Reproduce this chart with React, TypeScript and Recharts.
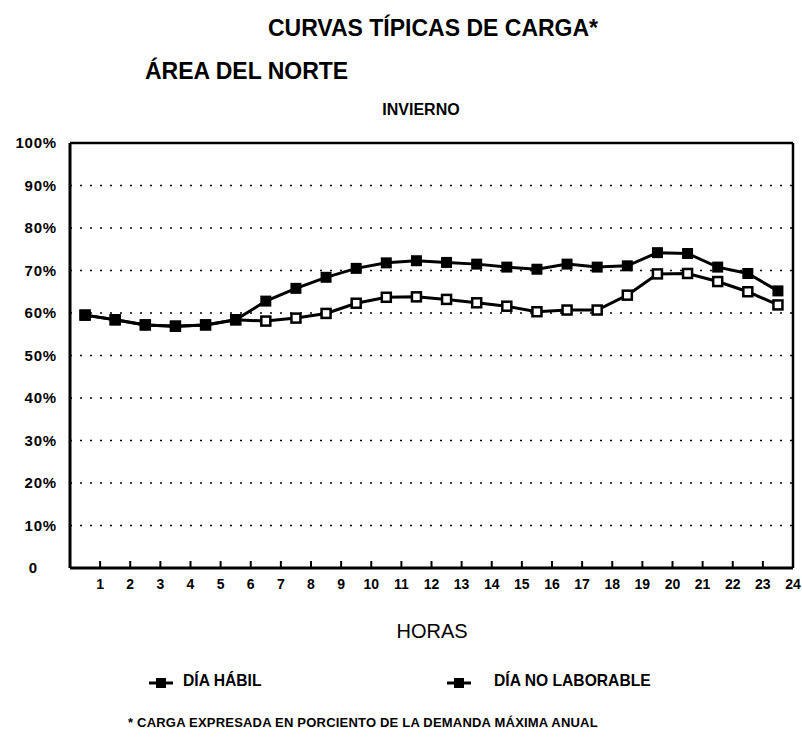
import React from 'react';
import { LineChart, Line, XAxis, YAxis, CartesianGrid, ReferenceLine } from 'recharts';

// horas del día y carga en % de la demanda máxima anual
const horas = [1, 2, 3, 4, 5, 6, 7, 8, 9, 10, 11, 12, 13, 14, 15, 16, 17, 18, 19, 20, 21, 22, 23, 24];
const diaHabil = [59.5, 58.4, 57.2, 56.9, 57.2, 58.4, 62.8, 65.8, 68.4, 70.5, 71.8, 72.3, 71.9, 71.5, 70.8, 70.3, 71.5, 70.8, 71.1, 74.2, 74.0, 70.8, 69.3, 65.2];
const diaNoLaborable = [59.5, 58.4, 57.2, 56.9, 57.2, 58.4, 58.1, 58.8, 59.9, 62.3, 63.7, 63.8, 63.2, 62.4, 61.6, 60.3, 60.7, 60.7, 64.2, 69.2, 69.3, 67.4, 65.0, 61.9];
const yTicks = [0, 10, 20, 30, 40, 50, 60, 70, 80, 90, 100];
const series = [
  { key: 'noLab', name: 'DÍA NO LABORABLE' },
  { key: 'habil', name: 'DÍA HÁBIL' },
];

// los puntos van a la mitad de cada hora
const data = horas.map((h, i) => ({ x: h - 0.5, habil: diaHabil[i], noLab: diaNoLaborable[i] }));

const FONT = '"Liberation Sans", Arial, sans-serif';

const SquareFilled = (props: any) => {
  const { cx, cy } = props;
  if (cx == null || cy == null) return null;
  return <rect x={cx - 5.5} y={cy - 5.5} width={11} height={11} fill="#000" />;
};

const SquareOpen = (props: any) => {
  const { cx, cy } = props;
  if (cx == null || cy == null) return null;
  return <rect x={cx - 4.5} y={cy - 4.5} width={9} height={9} fill="#fff" stroke="#000" strokeWidth={2.5} />;
};

const YTick = (props: any) => {
  const { x, y, payload } = props;
  const v = payload.value;
  if (v === 0) {
    return <text x={x - 24} y={y} dy="0.35em" textAnchor="middle" fontFamily={FONT} fontWeight="bold" fontSize={15} fill="#000">0</text>;
  }
  return <text x={x} y={y} dy="0.35em" textAnchor="end" fontFamily={FONT} fontWeight="bold" fontSize={15} letterSpacing={0.8} fill="#000">{v + '%'}</text>;
};

const LegendMark = ({ x }: { x: number }) => (
  <svg width={26} height={14} style={{ position: 'absolute', left: x, top: 6 }}>
    <line x1={1} y1={8} x2={25} y2={8} stroke="#000" strokeWidth={3} />
    <rect x={8} y={3} width={10} height={10} fill="#000" />
  </svg>
);

const App = () => {
  return (
    <div style={{ position: 'absolute', left: 0, top: 0, width: 802, height: 746, background: '#fff', fontFamily: FONT }}>
      <div style={{ position: 'absolute', left: 0, width: 802, top: 15, textAlign: 'center', paddingLeft: 64, boxSizing: 'border-box', fontSize: 23, fontWeight: 'bold' }}>
        CURVAS TÍPICAS DE CARGA*
      </div>
      <div style={{ position: 'absolute', left: 145, top: 58, fontSize: 23, fontWeight: 'bold' }}>ÁREA DEL NORTE</div>
      <div style={{ position: 'absolute', left: 0, width: 802, top: 101, textAlign: 'center', paddingLeft: 40, boxSizing: 'border-box', fontSize: 16, fontWeight: 'bold' }}>
        INVIERNO
      </div>

      <LineChart width={802} height={746} data={data} margin={{ top: 143, right: 9, bottom: 148, left: 10 }}>
        <CartesianGrid horizontal vertical={false} stroke="#000" strokeWidth={1.5} strokeDasharray="2 8" />
        <XAxis
          dataKey="x"
          type="number"
          domain={[0, 24]}
          ticks={horas}
          interval={0}
          height={30}
          axisLine={{ stroke: '#000', strokeWidth: 3 }}
          tickLine={{ stroke: '#000', strokeWidth: 2 }}
          tickSize={-7}
          tickMargin={18}
          tick={{ fill: '#000', fontSize: 14, fontWeight: 'bold', fontFamily: FONT }}
        />
        <YAxis
          type="number"
          domain={[0, 100]}
          ticks={yTicks}
          interval={0}
          width={60}
          axisLine={{ stroke: '#000', strokeWidth: 3 }}
          tickLine={false}
          tickSize={0}
          tickMargin={13}
          tick={<YTick />}
        />
        <ReferenceLine y={100} stroke="#000" strokeWidth={2.5} />
        <ReferenceLine x={24} stroke="#000" strokeWidth={2.5} />
        <Line type="linear" dataKey={series[0].key} name={series[0].name} stroke="#000" strokeWidth={3} dot={<SquareOpen />} isAnimationActive={false} />
        <Line type="linear" dataKey={series[1].key} name={series[1].name} stroke="#000" strokeWidth={3} dot={<SquareFilled />} isAnimationActive={false} />
      </LineChart>

      <div style={{ position: 'absolute', left: 0, width: 802, top: 620, textAlign: 'center', paddingLeft: 62, boxSizing: 'border-box', fontSize: 20 }}>
        HORAS
      </div>
      <div style={{ position: 'absolute', left: 0, top: 669, width: 802, height: 30, fontSize: 17, fontWeight: 'bold', color: '#000' }}>
        <LegendMark x={148} />
        <span style={{ position: 'absolute', left: 183, top: 2, transform: 'scaleX(0.92)', transformOrigin: 'left' }}>{series[1].name}</span>
        <LegendMark x={446} />
        <span style={{ position: 'absolute', left: 494, top: 2, transform: 'scaleX(0.92)', transformOrigin: 'left' }}>{series[0].name}</span>
      </div>
      <div style={{ position: 'absolute', left: 128, top: 715, fontSize: 13, fontWeight: 'bold', letterSpacing: 0.2 }}>
        * CARGA EXPRESADA EN PORCIENTO DE LA DEMANDA MÁXIMA ANUAL
      </div>
    </div>
  );
};

export default App;
